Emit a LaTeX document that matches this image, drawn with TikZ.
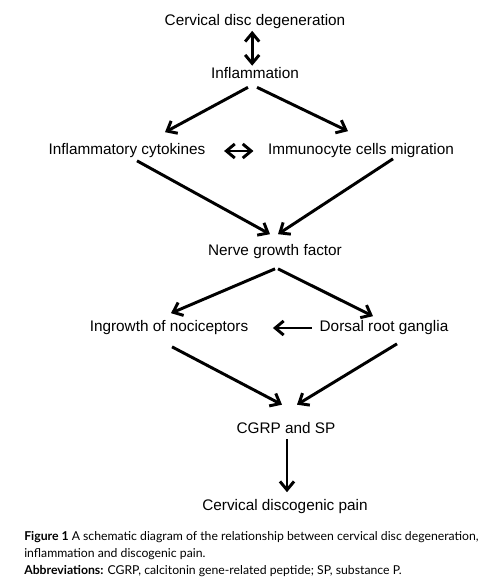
\documentclass[tikz,border=0pt]{standalone}
\usepackage{fontspec}
\setmainfont{Liberation Sans}
\newfontfamily\capfont{Lato}
\usetikzlibrary{arrows.meta}
\tikzset{
  lbl/.style={font=\fontsize{10.9}{13}\selectfont, inner sep=1pt},
  arr/.style={line width=2.1pt, -{Straight Barb[length=6pt,width=10pt]}},
  darr/.style={line width=2.1pt, {Straight Barb[length=6pt,width=10pt]}-{Straight Barb[length=6pt,width=10pt]}}
}
\begin{document}
\begin{tikzpicture}[x=0.025cm,y=-0.025cm]
\useasboundingbox (0,0) rectangle (486,585);
\node[lbl] (cdd) at (255,22) {Cervical disc degeneration};
\node[lbl] (infl) at (255,73) {Inflammation};
\node[lbl] (cyto) at (127,151) {Inflammatory cytokines};
\node[lbl] (immu) at (361,151) {Immunocyte cells migration};
\node[lbl] (ngf) at (275,252) {Nerve growth factor};
\node[lbl] (noci) at (169,328) {Ingrowth of nociceptors};
\node[lbl] (drg) at (384,328) {Dorsal root ganglia};
\node[lbl] (cgrp) at (286,428) {CGRP and SP};
\node[lbl] (pain) at (285,507) {Cervical discogenic pain};
\draw[darr] ([xshift=-2]cdd.south) -- ([xshift=-2]infl.north);
\draw[arr] ([shift={(-7,7)}]infl.south) -- ([shift={(38,-10)}]cyto.north);
\draw[arr] ([shift={(2,7)}]infl.south) -- ([shift={(-13,-11)}]immu.north);
\draw[darr] ([shift={(17,0)}]cyto.east) -- ([shift={(-13,0)}]immu.west);
\draw[arr] ([shift={(10,1)}]cyto.south) -- ([shift={(-5,-9)}]ngf.north);
\draw[arr] ([shift={(32,-1)}]immu.south) -- ([shift={(3,-9)}]ngf.north);
\draw[arr] ([shift={(0,8)}]ngf.south) -- ([shift={(2,-6)}]noci.north);
\draw[arr] ([shift={(3,8)}]ngf.south) -- ([shift={(-11,-3)}]drg.north);
\draw[arr] ([shift={(-6,0)}]drg.west) -- ([shift={(23,0)}]noci.east);
\draw[arr] ([shift={(3,10)}]noci.south) -- ([shift={(-4,-16)}]cgrp.north);
\draw[arr] ([shift={(13,7)}]drg.south) -- ([shift={(11,-16)}]cgrp.north);
\draw[arr] ([shift={(1,4)}]cgrp.south) -- ([shift={(2,-6)}]pain.north);
\node[anchor=west, align=left, inner sep=0pt, font=\capfont\fontsize{8.7}{12.3}\selectfont] (cap) at (24,554)
  {{\bfseries Figure 1} A schematic diagram of the relationship between cervical disc degeneration,\\
   inflammation and discogenic pain.\\
   {\bfseries Abbreviations:} CGRP, calcitonin gene-related peptide; SP, substance P.};
\end{tikzpicture}
\end{document}
